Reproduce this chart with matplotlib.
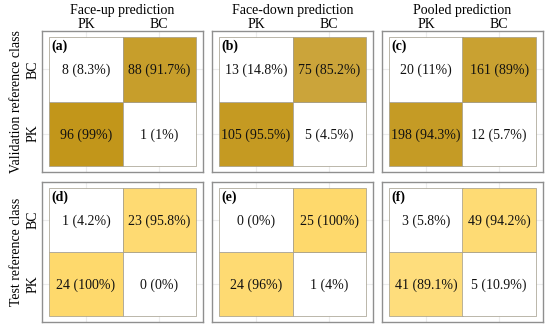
import matplotlib
matplotlib.use("Agg")
import matplotlib.pyplot as plt
import numpy as np
from matplotlib.colors import LinearSegmentedColormap

plt.rcParams['font.family'] = ['Liberation Serif', 'DejaVu Serif']

col_titles = ["Face-up prediction", "Face-down prediction", "Pooled prediction"]
row_titles = ["Validation reference class", "Test reference class"]
pred_labels = ["PK", "BC"]
ref_labels = ["PK", "BC"]
panel_tags = [["(a)", "(b)", "(c)"], ["(d)", "(e)", "(f)"]]

# counts[row][col] = [[ref PK -> pred PK, ref PK -> pred BC], [ref BC -> pred PK, ref BC -> pred BC]]
counts = [
    [[[96, 1], [8, 88]], [[105, 5], [13, 75]], [[198, 12], [20, 161]]],
    [[[24, 0], [1, 23]], [[24, 1], [0, 25]], [[41, 5], [3, 49]]],
]
percents = [
    [[["99%", "1%"], ["8.3%", "91.7%"]], [["95.5%", "4.5%"], ["14.8%", "85.2%"]], [["94.3%", "5.7%"], ["11%", "89%"]]],
    [[["100%", "0%"], ["4.2%", "95.8%"]], [["96%", "4%"], ["0%", "100%"]], [["89.1%", "10.9%"], ["5.8%", "94.2%"]]],
]

cmaps = [
    LinearSegmentedColormap.from_list("val", ["#ffffff", "#c29518"]),
    LinearSegmentedColormap.from_list("test", ["#ffffff", "#fed96c"]),
]

W, H = 550, 332
fig = plt.figure(figsize=(5.5, 3.32), dpi=100)

lefts = [42, 212, 382]
tops = [31, 182]
pw = 161
phs = [141, 140]

for r in range(2):
    for c in range(3):
        ax = fig.add_axes([lefts[c] / W, 1 - (tops[r] + phs[r]) / H, pw / W, phs[r] / H])
        ax.set_xlim(-0.6, 1.6)
        ax.set_ylim(-0.6, 1.6)
        for s in ax.spines.values():
            s.set_color("#8f8f8f")
            s.set_linewidth(1.0)
        ax.set_xticks([0, 1])
        ax.set_yticks([0, 1])
        ax.grid(True, color="#ececec", linewidth=0.8, zorder=0)
        ax.set_axisbelow(True)
        ax.tick_params(length=0)
        for i in range(2):  # ref index (0=PK bottom,1=BC top)
            for j in range(2):  # pred index
                txt = percents[r][c][i][j]
                p = float(txt.rstrip("%")) / 100.0
                if i == j:
                    fc = cmaps[r](p)
                else:
                    fc = "#ffffff"
                ax.add_patch(plt.Rectangle((j - 0.5, i - 0.5), 1, 1, facecolor=fc,
                                           edgecolor="#a09a88", linewidth=0.5, zorder=2))
                ax.text(j, i - 0.02, f"{counts[r][c][i][j]} ({txt})", ha="center", va="center",
                        fontsize=10, zorder=3, color="#111111")
        ax.text(-0.47, 1.47, panel_tags[r][c], ha="left", va="top", fontsize=10,
                fontweight="bold", zorder=4)
        if r == 0:
            ax.xaxis.tick_top()
            ax.set_xticklabels(pred_labels, fontsize=10)
            ax.tick_params(axis="x", pad=0)
            ax.set_title(col_titles[c], fontsize=10, pad=12)
        else:
            ax.set_xticklabels([])
            ax.tick_params(axis="x", labelbottom=False, labeltop=False)
        if c == 0:
            ax.set_yticklabels(ref_labels, fontsize=10, rotation=90, va="center")
            ax.tick_params(axis="y", pad=2)
            ax.set_ylabel(row_titles[r], fontsize=10, labelpad=2)
        else:
            ax.set_yticklabels([])

fig.savefig("out.png", dpi=100)
